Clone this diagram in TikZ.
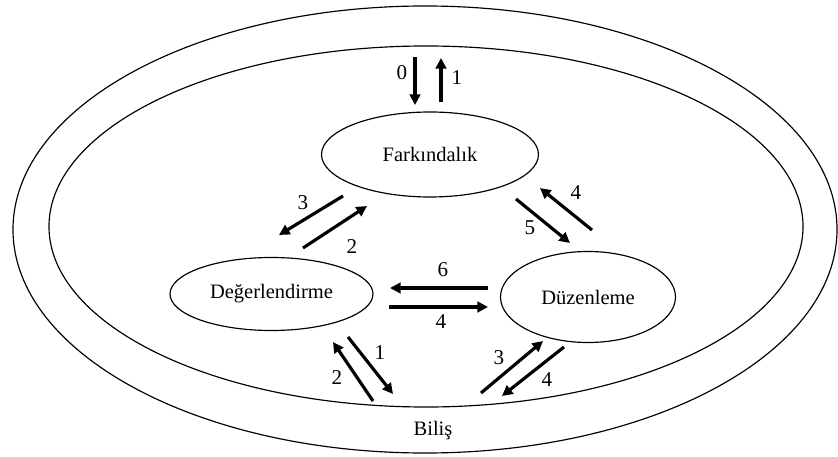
\documentclass[tikz,border=0pt]{standalone}
\usepackage{fontspec}
\setmainfont{Liberation Serif}
\usetikzlibrary{shapes.geometric,arrows.meta}

\begin{document}
\begin{tikzpicture}[x=0.03cm,y=-0.03cm,
    ring/.style={draw, ellipse, line width=1pt, inner sep=0pt},
    stage/.style={ring, font=\fontsize{17.5}{20}\selectfont},
    flow/.style={line width=2.7pt, -{Triangle[length=9pt,width=9pt]}},
    num/.style={font=\fontsize{18}{20}\selectfont}]
    \useasboundingbox (0,0) rectangle (838,457);
    % outer and inner ring
    \node[ring, minimum width=24.72cm, minimum height=13.41cm] (outer) at (425,229.5) {};
    \node[ring, minimum width=22.62cm, minimum height=10.83cm] (inner) at (426,226.5) {};
    \node[font=\fontsize{17.5}{20}\selectfont] (bilis) at (433,431) {Biliş};
    % three stages
    \node[stage, minimum width=6.51cm, minimum height=2.55cm] (fark) at (430,154.5) {Farkındalık};
    \node[stage, minimum width=6.09cm, minimum height=2.19cm] (deger) at (271.5,294) {Değerlendirme};
    \node[stage, minimum width=5.25cm, minimum height=2.73cm] (duzen) at (588,297) {Düzenleme};
    % numbered arrows
    \foreach \sx/\sy/\ex/\ey/\lab/\lx/\ly [count=\n] in {
      415/57/415/105/0/402/73, 441/102/441/58/1/457/78,
      343/196/279/235/3/303/203, 303/248/367/206/2/352/247,
      516/199/570/243/5/530/228, 592/230/540/188/4/576/193,
      488/288/390/288/6/443/270, 389/307/488/307/4/441/322,
      348/337/393/394/1/380/353, 373/401/333/342/2/337/378,
      481/393/543/341/3/499/358, 564/347/502/396/4/547/380
    }{
      \coordinate (s\n) at (\sx,\sy);
      \coordinate (e\n) at (\ex,\ey);
      \draw[flow] (s\n) -- (e\n);
      \node[num] (lab\n) at (\lx,\ly) {\lab};
    }
\end{tikzpicture}
\end{document}
